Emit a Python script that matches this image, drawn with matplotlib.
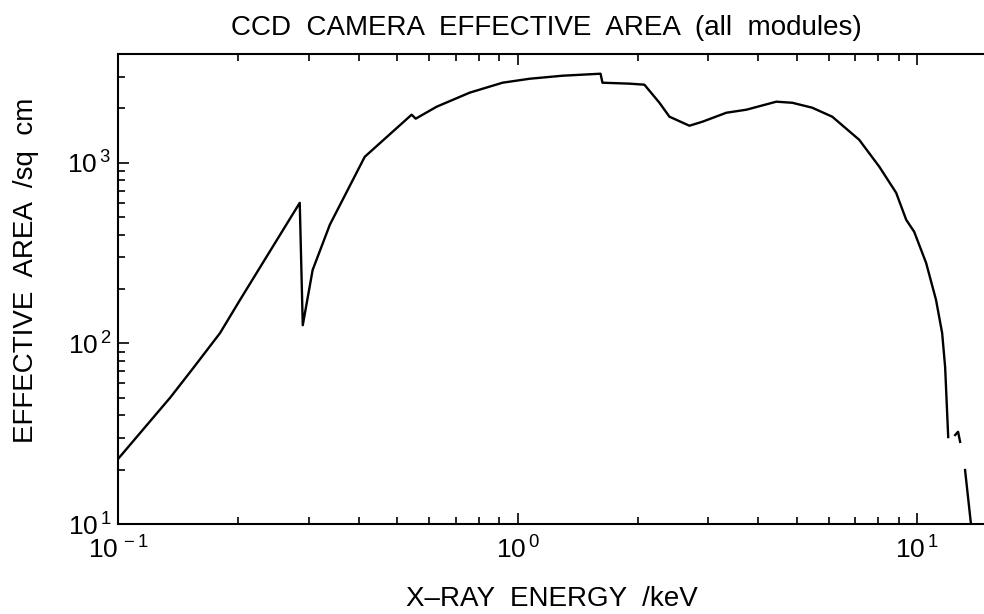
import numpy as np
import matplotlib
matplotlib.use("Agg")
import matplotlib.pyplot as plt

# values (keV, sq cm); nan marks the breaks in the trace
energy = np.array([0.100, 0.135, 0.153, 0.180, 0.202, 0.285, 0.290, 0.307, 0.339,
                   0.4145, 0.543, 0.556, 0.627, 0.759, 0.917, 1.072, 1.296, 1.613,
                   1.631, 1.905, 2.077, 2.265, 2.399, 2.692, 2.901, 3.331, 3.737,
                   4.442, 4.870, 5.46, 6.13, 7.16, 8.04, 8.86, 9.39, 9.83, 10.53,
                   11.15, 11.55, 11.75, 11.96, np.nan, 12.45, 12.66, 12.81, np.nan,
                   13.18, 13.65])
area = np.array([22.9, 50, 71.3, 114, 174, 600, 126, 255, 454,
                 1079, 1845, 1754, 2042, 2444, 2774, 2918, 3033, 3111,
                 2774, 2741, 2705, 2148, 1799, 1603, 1687, 1892, 1966,
                 2178, 2148, 2018, 1799, 1341, 951, 682, 483, 415, 279,
                 174, 114, 74, 30.3, np.nan, 31.1, 32.4, 28.5, np.nan,
                 19.9, 9.8])

x_ticks = [0.1, 1, 10]
x_labels = [r"$10^{\,-1}$", r"$10^{\,0}$", r"$10^{\,1}$"]
y_ticks = [10, 100, 1000]
y_labels = [r"$10^{\,1}$", r"$10^{\,2}$", r"$10^{\,3}$"]

plt.rcParams["font.family"] = ["Liberation Sans", "DejaVu Sans"]
plt.rcParams["mathtext.fontset"] = "custom"
plt.rcParams["mathtext.rm"] = "Liberation Sans"
plt.rcParams["mathtext.it"] = "Liberation Sans"

W, H = 984, 614
fig = plt.figure(figsize=(9.84, 6.14), dpi=100)
ax = fig.add_axes([118 / W, 90 / H, 1 - 118 / W, 470 / H])

ax.plot(energy, area, color="black", lw=1.7)
ax.set_xscale("log")
ax.set_yscale("log")
ax.set_xlim(0.1, 14.7)
ax.set_ylim(10, 4000)

ax.set_xticks(x_ticks)
ax.set_xticklabels(x_labels)
ax.set_yticks(y_ticks)
ax.set_yticklabels(y_labels)

ax.spines["right"].set_visible(False)
for s in ["left", "bottom", "top"]:
    ax.spines[s].set_linewidth(1.5)
ax.tick_params(which="both", direction="in", top=True, right=False, labelsize=19, width=1.2)
ax.tick_params(which="major", length=8)
ax.tick_params(which="minor", length=5)
ax.tick_params(axis="x", pad=9)
ax.tick_params(axis="y", pad=5)

fig.text(546 / W, 1 - 35 / H, "CCD  CAMERA  EFFECTIVE  AREA  (all  modules)",
         fontsize=20, ha="center", va="baseline")
fig.text(552 / W, 1 - 606 / H, "X\u2013RAY  ENERGY  /keV",
         fontsize=20, ha="center", va="baseline")
fig.text(33 / W, 1 - 270 / H, "EFFECTIVE  AREA  /sq  cm", fontsize=20,
         rotation=90, rotation_mode="anchor", ha="center", va="baseline")

fig.savefig("out.png", dpi=100)
